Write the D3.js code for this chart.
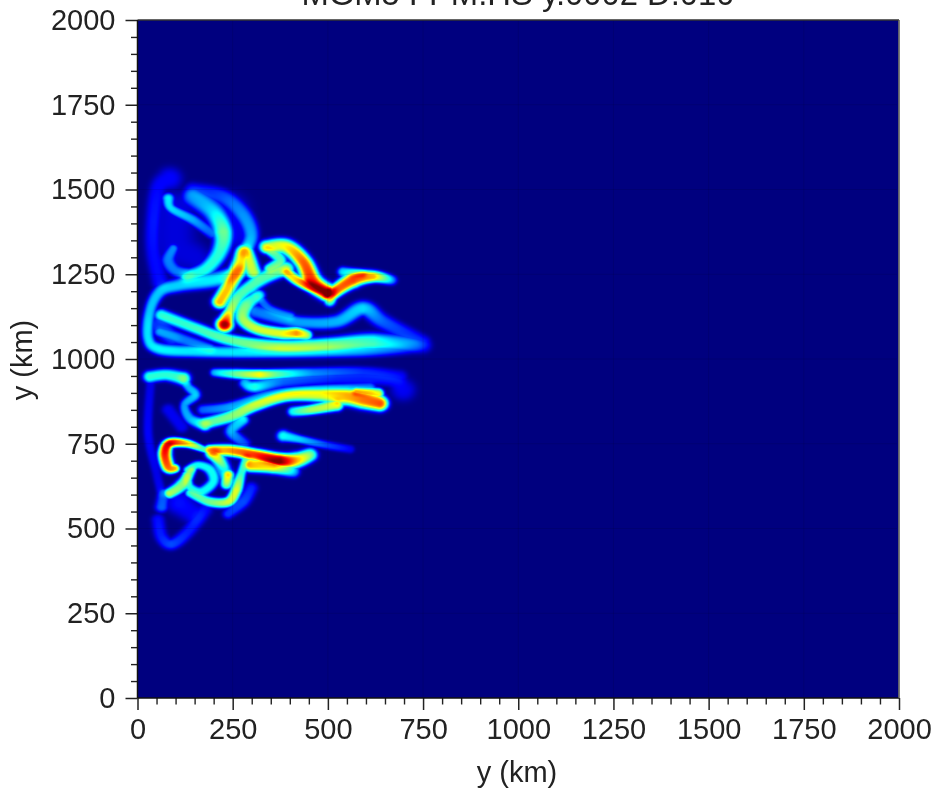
<!DOCTYPE html>
<html><head><meta charset="utf-8">
<script src="https://cdn.jsdelivr.net/npm/d3@7"></script>
<style>
html,body{margin:0;padding:0;background:#fff;}
svg{display:block;filter:blur(0.45px);font-family:"Liberation Sans",Arial,sans-serif;}
.tick text{font-family:"Liberation Sans",Arial,sans-serif;fill:#222;}
</style></head><body>
<svg id="chart" width="935" height="790"></svg>
<script>
// ----- chart text and ticks -----
const titleText = "MGM5 FPM.HS y.0002 D.010";
const xLabelText = "y (km)";
const yLabelText = "y (km)";
const majorTicks = [0,250,500,750,1000,1250,1500,1750,2000];
const minorTicks = d3.range(0,2001,50).filter(v=>v%250!==0);
const axisDomain = [0,2000];
// colour stops of the jet map
const jetStops = [0,0.11,0.35,0.5,0.63,0.87,1];
const jetColors = ["#00007f","#0000ff","#00ffff","#7fff7f","#ffff00","#ff0000","#7f0000"];

// ----- filaments of the field: [x km, y km, level, spread km] -----
const upperFilaments = [
 [[724,1036,.1,8],[592,1026,.26,8],[330,1020,.33,7],[155,1022,.33,7],[59,1029,.35,7],[28,1061,.33,6],[32,1139,.3,6],[59,1198,.3,7],[111,1218,.31,8],[199,1233,.34,9],[269,1257,.38,8]],
 [[63,1130,.38,7],[155,1090,.42,7],[243,1056,.46,7],[374,1036,.52,8],[505,1041,.48,9],[619,1051,.4,10],[750,1040,.12,9]],
 [[312,1139,.22,8],[417,1110,.26,7],[522,1110,.28,8],[592,1149,.32,9],[645,1110,.2,9],[750,1051,.11,8]],
 [[321,1189,.3,6],[286,1159,.48,8],[277,1120,.54,8],[312,1090,.58,7],[374,1076,.6,7],[417,1076,.73,7],[444,1071,.54,6]],
 [[229,1102,.97,9],[242,1139,.58,6],[269,1189,.44,7],[330,1238,.44,8],[391,1267,.48,8]],
 [[216,1169,.7,8],[242,1218,.68,8],[269,1277,.66,9],[282,1316,.62,8],[304,1257,.56,8]],
 [[339,1331,.54,8],[391,1331,.64,9],[435,1287,.78,9],[461,1228,.84,10],[496,1198,.78,10]],
 [[391,1257,.58,6],[426,1228,.7,6],[496,1194,.76,7]],
 [[339,1326,.4,5],[374,1292,.44,7],[347,1267,.43,6]],
 [[505,1169,.38,6],[514,1194,.76,7],[566,1233,.81,9],[619,1243,.7,7],[667,1233,.24,6]],
 [[540,1257,.32,6],[590,1253,.38,5]],
 [[146,1479,.23,11],[199,1434,.31,11],[225,1375,.46,10],[216,1316,.4,9],[181,1267,.38,8],[129,1243,.33,7]],
 [[146,1498,.12,9],[225,1479,.17,9],[278,1425,.23,9],[299,1366,.26,8],[282,1316,.33,7]],
 [[81,1474,.32,6],[89,1444,.3,5],[146,1410,.26,6],[195,1370,.18,6]],
 [[94,1326,.22,5],[81,1292,.22,7],[98,1262,.22,7],[133,1250,.24,7]],
 [[85,1533,.11,13],[54,1503,.11,9],[41,1405,.12,8],[41,1316,.11,8],[59,1228,.12,9]],
 [[100,1440,.08,22],[100,1340,.08,24],[150,1300,.08,16]],
 [[240,1440,.09,20],[260,1370,.09,18]],
 [[59,1080,.23,6],[111,1061,.22,7],[190,1031,.23,6]],
 [[312,1194,.23,5],[345,1150,.2,5],[400,1125,.22,6]],
 [[60,1100,.16,12],[90,1060,.14,10]]
];
const lowerFilaments = [
 [[32,948,.4,7],[76,953,.4,7],[120,943,.42,8]],
 [[120,943,.28,6],[133,918,.28,5],[151,894,.31,6],[124,864,.26,5],[138,825,.28,6],[177,805,.4,7]],
 [[203,960,.28,5],[260,956,.48,6],[321,954,.63,6],[374,956,.43,6],[461,960,.23,6],[592,963,.14,6],[689,948,.1,8]],
 [[282,928,.28,6],[308,918,.38,7],[382,933,.2,7],[522,943,.14,7],[663,938,.12,8],[698,909,.1,13]],
 [[177,810,.43,7],[243,830,.5,7],[312,864,.56,7],[391,891,.58,7],[479,894,.6,8],[549,889,.7,10],[593,879,.76,10],[636,869,.8,9]],
 [[409,845,.36,6],[453,850,.53,6],[523,864,.6,7]],
 [[575,904,.53,5],[632,899,.58,6]],
 [[172,850,.2,6],[243,859,.26,6],[347,894,.26,6],[453,910,.28,5],[610,913,.23,7]],
 [[278,820,.33,6],[247,786,.28,7],[282,751,.16,6]],
 [[383,773,.36,7],[426,763,.31,5],[496,746,.18,5],[558,734,.1,5]],
 [[173,734,.38,4],[129,751,.68,5],[85,751,.92,6],[72,722,.86,7],[81,682,.78,7],[98,677,.7,5]],
 [[190,732,.6,6],[243,730,.73,7],[312,717,.83,7],[374,702,.97,8],[417,702,.7,9],[453,717,.48,8]],
 [[299,687,.7,8],[356,682,.63,8],[409,668,.28,7]],
 [[199,722,.62,8],[229,682,.3,5]],
 [[133,673,.36,5],[159,687,.36,5],[190,673,.36,6],[199,638,.36,6],[168,609,.36,6],[138,623,.36,5],[129,658,.36,5]],
 [[85,604,.53,6],[116,628,.5,7],[142,673,.43,5]],
 [[138,604,.38,5],[190,579,.48,6],[238,579,.58,6],[260,614,.6,6],[273,663,.4,5],[286,707,.38,5]],
 [[238,658,.58,6],[233,630,.43,6]],
 [[68,604,.18,6],[63,564,.2,7]],
 [[111,574,.12,14],[150,540,.1,12]],
 [[54,525,.12,7],[63,476,.14,7],[89,454,.18,7],[129,486,.14,7],[177,555,.11,8]],
 [[238,543,.16,6],[278,579,.18,7],[299,619,.14,7]],
 [[34,928,.09,5],[28,781,.11,5],[50,663,.09,5],[63,604,.11,5]],
 [[81,850,.1,7],[116,800,.1,7]],
 [[215,700,.3,9],[240,640,.3,8]]
];

// ----- layout -----
const svg = d3.select("#chart");
const plotL=137.5, plotR=899, plotT=20, plotB=698;
const spreadFactor=2;
const x = d3.scaleLinear().domain(axisDomain).range([plotL,plotR]);
const y = d3.scaleLinear().domain(axisDomain).range([plotB,plotT]);
const jet = d3.scaleLinear().domain(jetStops).range(jetColors).clamp(true);

// ----- field: each filament adds a smooth ridge, colour comes from the jet scale -----
const W = Math.round(plotR-plotL)-1, H = Math.round(plotB-plotT);
const field = new Float32Array(W*H);
const layer = new Float32Array(W*H);
const cr=(a,b,c,d,t)=>0.5*(2*b+(c-a)*t+(2*a-5*b+4*c-d)*t*t+(3*b-a-3*c+d)*t*t*t);
function addFilament(pts){
  layer.fill(0);
  const sx=(x(1)-x(0)), sy=(y(0)-y(1));
  for(let i=0;i<pts.length-1;i++){
    const p0=pts[Math.max(i-1,0)],p1=pts[i],p2=pts[i+1],p3=pts[Math.min(i+2,pts.length-1)];
    const len=Math.hypot((p2[0]-p1[0])*sx,(p2[1]-p1[1])*sy);
    const n=Math.max(2,Math.ceil(len));
    for(let k=0;k<=n;k++){
      const t=k/n;
      const px=x(cr(p0[0],p1[0],p2[0],p3[0],t))-plotL;
      const py=y(cr(p0[1],p1[1],p2[1],p3[1],t))-plotT;
      const v=p1[2]+(p2[2]-p1[2])*t;
      const s=(p1[3]+(p2[3]-p1[3])*t)*spreadFactor;
      const rx=s*sx, ry=s*sy;
      const ix0=Math.max(0,Math.floor(px-2.6*rx)),ix1=Math.min(W-1,Math.ceil(px+2.6*rx));
      const iy0=Math.max(0,Math.floor(py-2.6*ry)),iy1=Math.min(H-1,Math.ceil(py+2.6*ry));
      for(let j=iy0;j<=iy1;j++)for(let q=ix0;q<=ix1;q++){
        const dx=(q+.5-px)/rx,dy=(j+.5-py)/ry;
        const r=Math.sqrt(dx*dx+dy*dy);
        const f=v*Math.exp(-0.5*r*r*r);
        const id=j*W+q;
        if(f>layer[id])layer[id]=f;
      }
    }
  }
  for(let i=0;i<W*H;i++){
    const a=field[i],b=layer[i];
    field[i]=Math.max(a,b)+0.28*Math.min(a,b);
  }
}
upperFilaments.forEach(addFilament);
lowerFilaments.forEach(addFilament);

const cv=document.createElement("canvas");cv.width=W;cv.height=H;
const ctx=cv.getContext("2d");const img=ctx.createImageData(W,H);
const lut=d3.range(0,1025).map(i=>d3.rgb(jet(i/1024)));
for(let i=0;i<W*H;i++){
  const c=lut[Math.min(1024,Math.round(field[i]*1024))];
  img.data[i*4]=c.r;img.data[i*4+1]=c.g;img.data[i*4+2]=c.b;img.data[i*4+3]=255;
}
ctx.putImageData(img,0,0);
svg.append("image").attr("x",plotL).attr("y",plotT).attr("width",W).attr("height",H)
   .attr("href",cv.toDataURL("image/png"));

// faint grid over the field
const grid=svg.append("g").attr("stroke","#000").attr("stroke-opacity",.1).attr("stroke-width",1);
grid.selectAll(".gx").data(majorTicks.slice(1,-1)).join("line").attr("class","gx")
  .attr("x1",d=>x(d)).attr("x2",d=>x(d)).attr("y1",plotT).attr("y2",plotB);
grid.selectAll(".gy").data(majorTicks.slice(1,-1)).join("line").attr("class","gy")
  .attr("y1",d=>y(d)).attr("y2",d=>y(d)).attr("x1",plotL).attr("x2",plotR-2);

// ----- axes -----
const tickColor="#222";
function styleAxis(g,w){g.selectAll("path").remove();g.selectAll("line").attr("stroke",tickColor).attr("stroke-width",w);
  g.selectAll("text").attr("font-size",29).attr("fill","#222");}
svg.append("g").attr("transform",`translate(0,${plotB})`)
  .call(d3.axisBottom(x).tickValues(minorTicks).tickSize(6.5).tickFormat("")).call(g=>styleAxis(g,1.4));
svg.append("g").attr("transform",`translate(${plotL},0)`)
  .call(d3.axisLeft(y).tickValues(minorTicks).tickSize(6.5).tickFormat("")).call(g=>styleAxis(g,1.4));
svg.append("g").attr("transform",`translate(0,${plotB})`)
  .call(d3.axisBottom(x).tickValues(majorTicks).tickSize(12).tickPadding(8).tickFormat(d3.format("d"))).call(g=>styleAxis(g,1.5));
svg.append("g").attr("transform",`translate(${plotL},0)`)
  .call(d3.axisLeft(y).tickValues(majorTicks).tickSize(12).tickPadding(10).tickFormat(d3.format("d"))).call(g=>styleAxis(g,1.5));

// frame
svg.append("line").attr("x1",plotL).attr("x2",plotR).attr("y1",plotT).attr("y2",plotT).attr("stroke","#333").attr("stroke-width",1.5);
svg.append("line").attr("x1",plotL).attr("x2",plotR).attr("y1",plotB).attr("y2",plotB).attr("stroke","#111").attr("stroke-width",1.5);
svg.append("line").attr("x1",plotL).attr("x2",plotL).attr("y1",plotT).attr("y2",plotB).attr("stroke","#111").attr("stroke-width",1.5);
svg.append("line").attr("x1",plotR).attr("x2",plotR).attr("y1",plotT).attr("y2",plotB).attr("stroke","#555").attr("stroke-width",1.5);

// ----- labels -----
svg.append("text").attr("x",518).attr("y",5).attr("text-anchor","middle").attr("font-size",32.8).attr("fill","#222").text(titleText);
svg.append("text").attr("x",517).attr("y",782).attr("text-anchor","middle").attr("font-size",29).attr("fill","#222").text(xLabelText);
svg.append("text").attr("transform","translate(32,360) rotate(-90)").attr("text-anchor","middle").attr("font-size",29).attr("fill","#222").text(yLabelText);
</script></body></html>
